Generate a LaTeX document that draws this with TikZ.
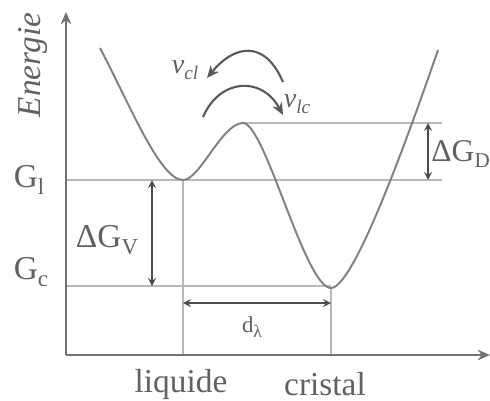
\documentclass[tikz,border=0pt]{standalone}
\usepackage{fontspec}
\setmainfont{Liberation Serif}
\usetikzlibrary{arrows.meta}
\newcommand\lowsub[1]{\raisebox{-0.45ex}{\fontsize{13}{13}\selectfont #1}}
\begin{document}
\begin{tikzpicture}[x=0.02cm,y=-0.02cm,>=stealth,
 font=\fontsize{19}{22}\selectfont,
 lbl/.style={text=black!62,inner sep=0pt},
 axis/.style={draw=black!55,line width=1.1pt,-{Stealth[length=7pt,width=6pt]}},
 level/.style={draw=black!28,line width=0.8pt},
 curve/.style={draw=black!50,line width=1.1pt},
 gap/.style={draw=black!70,line width=1pt,<->},
 flow/.style={draw=black!65,line width=1.2pt,-{Stealth[length=7pt,width=6pt]}}]
 \clip (0,0) rectangle (490,400);
 \coordinate (o) at (66,355);
 \coordinate (ytop) at (66,12);
 \coordinate (xend) at (490,355);
 \coordinate (s) at (100,48);
 \coordinate (ml) at (183,180);
 \coordinate (top) at (243,123);
 \coordinate (mc) at (331,288);
 \coordinate (e) at (438,50);
 \coordinate (gl0) at (66,180);
 \coordinate (gl1) at (442,180);
 \coordinate (gd1) at (442,123);
 \coordinate (gc0) at (66,286);
 \coordinate (gc1) at (331,286);
 \coordinate (lq) at (183,355);
 \coordinate (cr) at (331,355);
 \draw[level] (gl0) -- (gl1);
 \draw[level] (top) -- (gd1);
 \draw[level] (gc0) -- (gc1);
 \draw[level] (ml) -- (lq);
 \draw[level] (mc) -- (cr);
 \draw[axis] (o) -- (ytop);
 \draw[axis] (o) -- (xend);
 \draw[curve] (s) .. controls (130,105) and (160,180) .. (ml)
  .. controls (200,180) and (222,123) .. (top)
  .. controls (265,123) and (305,288) .. (mc)
  .. controls (352,288) and (400,160) .. (e);
 \coordinate (v1) at (152,180);
 \coordinate (v2) at (152,286);
 \draw[gap] (v1) -- (v2);
 \coordinate (d1) at (428,123);
 \coordinate (d2) at (428,180);
 \draw[gap] (d1) -- (d2);
 \coordinate (l1) at (183,303);
 \coordinate (l2) at (331,303);
 \draw[gap] (l1) -- (l2);
 \coordinate (a1) at (283,82);
 \coordinate (a2) at (207,78);
 \draw[flow] (a1) .. controls (265,40) and (235,44) .. (a2);
 \coordinate (b1) at (203,117);
 \coordinate (b2) at (283,115);
 \draw[flow] (b1) .. controls (220,78) and (262,76) .. (b2);
 \node[lbl,rotate=90,font=\fontsize{19}{22}\selectfont\itshape] (en) at (33,65) {Energie};
 \node[lbl] (gl) at (29,180) {G\lowsub{l}};
 \node[lbl] (gc) at (31,272) {G\lowsub{c}};
 \node[lbl] (dgv) at (107,240) {ΔG\lowsub{V}};
 \node[lbl,anchor=west,font=\fontsize{18}{22}\selectfont] (dgd) at (431,154) {ΔG\raisebox{-0.45ex}{\fontsize{12}{12}\selectfont D}};
 \node[lbl,font=\fontsize{13}{15}\selectfont] (dl) at (252,327) {d\lowsub{\fontsize{10}{10}\selectfont λ}};
 \node[lbl,font=\fontsize{16}{18}\selectfont\itshape] (vcl) at (185,70) {v\lowsub{\fontsize{11}{11}\selectfont cl}};
 \node[lbl,font=\fontsize{16}{18}\selectfont\itshape] (vlc) at (297,104) {v\lowsub{\fontsize{11}{11}\selectfont lc}};
 \node[lbl] (liq) at (181,384) {liquide};
 \node[lbl] (cri) at (325,384) {cristal};
\end{tikzpicture}
\end{document}
